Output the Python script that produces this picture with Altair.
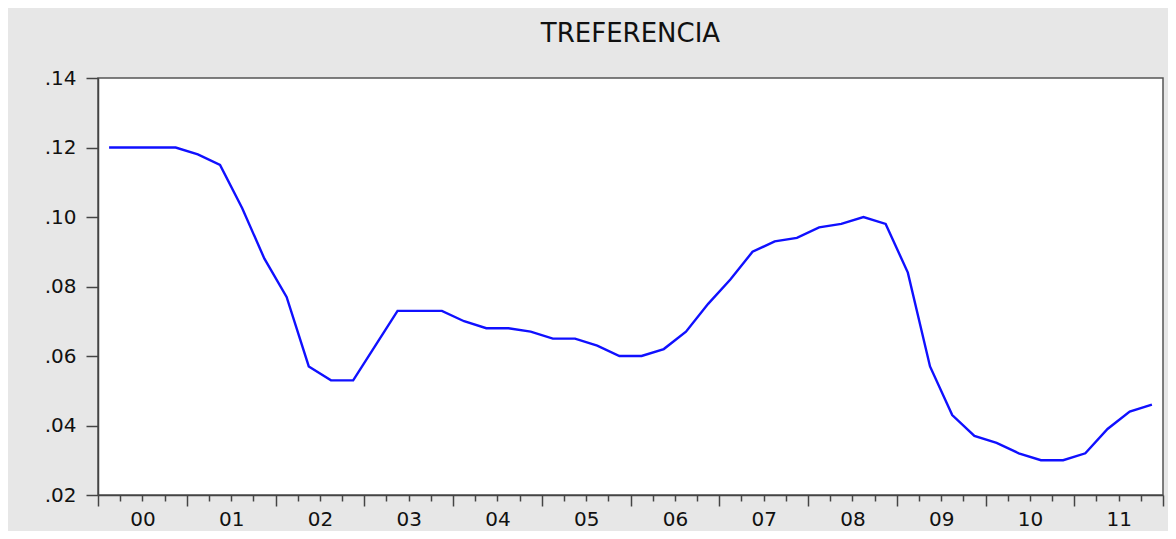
import altair as alt
import pandas as pd

# Quarterly series 2000Q1 .. 2011Q4
years = ["00", "01", "02", "03", "04", "05", "06", "07", "08", "09", "10", "11"]
quarters = ["Q1", "Q2", "Q3", "Q4"]
treferencia = [
    0.120, 0.120, 0.120, 0.120,
    0.118, 0.115, 0.1025, 0.088,
    0.077, 0.057, 0.053, 0.053,
    0.063, 0.073, 0.073, 0.073,
    0.070, 0.068, 0.068, 0.067,
    0.065, 0.065, 0.063, 0.060,
    0.060, 0.062, 0.067, 0.075,
    0.082, 0.090, 0.093, 0.094,
    0.097, 0.098, 0.100, 0.098,
    0.084, 0.057, 0.043, 0.037,
    0.035, 0.032, 0.030, 0.030,
    0.032, 0.039, 0.044, 0.046,
]
y_ticks = [0.02, 0.04, 0.06, 0.08, 0.10, 0.12, 0.14]

rows = []
for yi, yr in enumerate(years):
    for qi, q in enumerate(quarters):
        idx = yi * 4 + qi
        rows.append({"period": f"{yr}{q}", "t": idx + 0.5, "value": treferencia[idx]})
df = pd.DataFrame(rows)

n = len(years) * 4
label_values = [i * 4 + 2 for i in range(len(years))]
label_array = "[" + ",".join(f"'{y}'" for y in years) + "]"

FONT = "DejaVu Sans"
AX = "#444444"

xscale = alt.Scale(domain=[0, n], nice=False, zero=False)
yscale = alt.Scale(domain=[0.02, 0.14], nice=False, zero=False)
yaxis = alt.Axis(
    values=y_ticks,
    labelExpr="substring(format(datum.value, '.2f'), 1)",
    grid=False,
    tickSize=12,
    tickColor=AX,
    tickWidth=1.5,
    domainColor=AX,
    domainWidth=1.5,
    labelFont=FONT,
    labelFontSize=20,
    labelColor="#111111",
    labelPadding=10,
    title=None,
)

line = alt.Chart(df).mark_line(color="#1010ff", strokeWidth=2.4).encode(
    x=alt.X(
        "t:Q",
        scale=xscale,
        axis=alt.Axis(
            orient="bottom",
            values=label_values,
            labelExpr=f"{label_array}[(datum.value-2)/4]",
            ticks=False,
            grid=False,
            domain=True,
            domainColor=AX,
            domainWidth=1.5,
            labelFont=FONT,
            labelFontSize=20,
            labelColor="#111111",
            labelPadding=14,
            title=None,
        ),
    ),
    y=alt.Y("value:Q", scale=yscale, axis=yaxis),
)

ticks = alt.Chart(df).mark_line(opacity=0).encode(
    x=alt.X(
        "t:Q",
        scale=xscale,
        axis=alt.Axis(
            orient="bottom",
            values=list(range(0, n + 1)),
            labels=False,
            grid=False,
            domain=False,
            tickColor=AX,
            tickWidth=1.5,
            tickSize={"condition": {"test": "datum.value % 4 === 0", "value": 11}, "value": 6},
            title=None,
        ),
    ),
    y=alt.Y("value:Q", scale=yscale, axis=yaxis),
)

chart = (
    alt.layer(line, ticks)
    .resolve_axis(x="independent")
    .properties(
        width=1065,
        height=417,
        title=alt.TitleParams(
            "TREFERENCIA",
            font=FONT,
            fontSize=26,
            fontWeight="normal",
            color="#111111",
            anchor="middle",
            offset=21,
        ),
        autosize=alt.AutoSizeParams(type="none"),
        padding={"left": 90, "top": 70, "right": 5, "bottom": 36},
        background="#e7e7e7",
    )
    .configure_view(fill="white", stroke="#555555", strokeWidth=1.5)
)

chart.save("out.html", embed_options={"renderer": "svg", "actions": False})
